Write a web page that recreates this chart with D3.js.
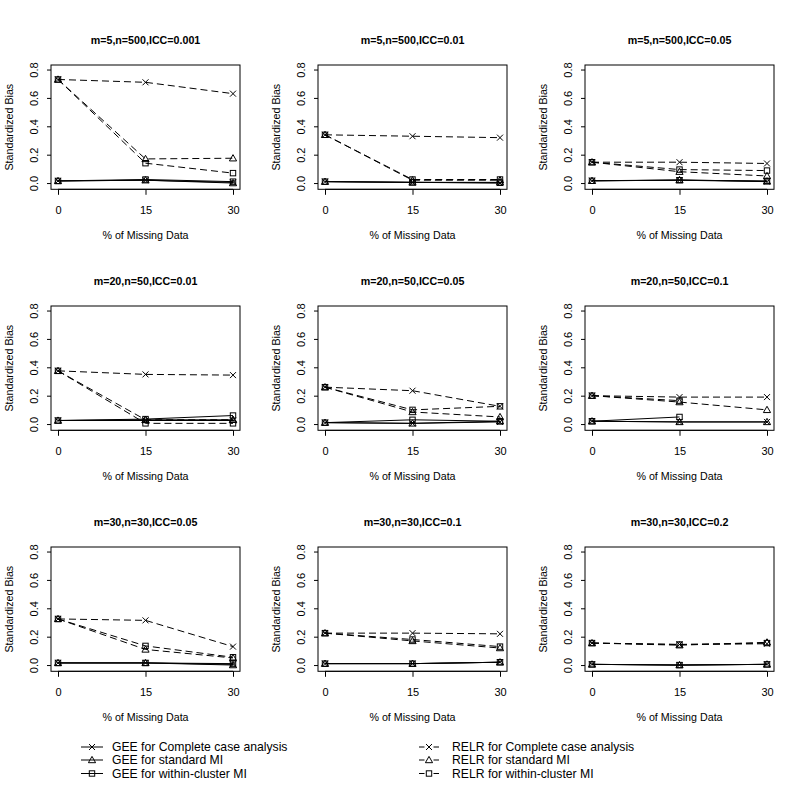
<!DOCTYPE html>
<html>
<head>
<meta charset="utf-8">
<script src="https://cdn.jsdelivr.net/npm/d3@7"></script>
<style>
  html, body { margin: 0; padding: 0; background: #ffffff; }
  svg { display: block; }
  text { font-family: "Liberation Sans", Arial, sans-serif; fill: #000; }
</style>
</head>
<body>
<script>
// ---------------- data ----------------
const missingPct = [0, 15, 30];
const xTickLabels = ["0", "15", "30"];
const yTicks = [0, 0.2, 0.4, 0.6, 0.8];
const yTickLabels = ["0.0", "0.2", "0.4", "0.6", "0.8"];
const panelTitles = [
  "m=5,n=500,ICC=0.001", "m=5,n=500,ICC=0.01", "m=5,n=500,ICC=0.05",
  "m=20,n=50,ICC=0.01", "m=20,n=50,ICC=0.05", "m=20,n=50,ICC=0.1",
  "m=30,n=30,ICC=0.05", "m=30,n=30,ICC=0.1", "m=30,n=30,ICC=0.2"
];
const seriesNames = [
  "GEE for Complete case analysis", "GEE for standard MI", "GEE for within-cluster MI",
  "RELR for Complete case analysis", "RELR for standard MI", "RELR for within-cluster MI"
];
// one row per panel, values at 0/15/30 % missing
const geeCC = [
  [0.015, 0.02, 0.005], [0.01, 0.005, 0.0], [0.016, 0.02, 0.01],
  [0.025, 0.025, 0.025], [0.01, 0.005, 0.015], [0.02, 0.015, 0.015],
  [0.015, 0.015, 0.005], [0.01, 0.01, 0.02], [0.005, 0.0, 0.005]
];
const geeStd = [
  [0.015, 0.02, 0.0], [0.01, 0.005, 0.005], [0.016, 0.022, 0.012],
  [0.025, 0.03, 0.03], [0.01, 0.005, 0.02], [0.02, 0.015, 0.015],
  [0.015, 0.015, 0.0], [0.01, 0.01, 0.02], [0.005, 0.0, 0.005]
];
const geeWithin = [
  [0.015, 0.025, 0.01], [0.01, 0.005, 0.002], [0.016, 0.02, 0.015],
  [0.025, 0.035, 0.06], [0.01, 0.03, 0.02], [0.02, 0.05, null],
  [0.015, 0.015, 0.01], [0.01, 0.01, 0.02], [0.005, 0.0, 0.005]
];
const relrCC = [
  [0.73, 0.71, 0.63], [0.34, 0.33, 0.32], [0.147, 0.147, 0.138],
  [0.375, 0.35, 0.345], [0.26, 0.235, 0.125], [0.2, 0.19, 0.19],
  [0.325, 0.315, 0.13], [0.225, 0.225, 0.22], [0.155, 0.145, 0.15]
];
const relrStd = [
  [0.73, 0.17, 0.175], [0.34, 0.02, 0.02], [0.147, 0.08, 0.05],
  [0.375, 0.03, 0.03], [0.26, 0.085, 0.05], [0.2, 0.155, 0.1],
  [0.325, 0.11, 0.05], [0.225, 0.17, 0.12], [0.155, 0.14, 0.16]
];
const relrWithin = [
  [0.73, 0.14, 0.07], [0.34, 0.025, 0.025], [0.147, 0.095, 0.088],
  [0.375, 0.005, 0.005], [0.26, 0.1, 0.125], [0.2, 0.165, null],
  [0.325, 0.135, 0.055], [0.225, 0.18, 0.13], [0.155, 0.145, 0.155]
];

const seriesData = [geeCC, geeStd, geeWithin, relrCC, relrStd, relrWithin];
const seriesShape = ["x", "tri", "sq", "x", "tri", "sq"];
const seriesDashed = [false, false, false, true, true, true];

// ---------------- layout ----------------
const W = 800, H = 800;
const colLeft = [51, 318, 585];
const rowTop = [65, 306, 547];
const boxW = 189, boxH = 124.3;
const dash = "7,4";

const svg = d3.select("body").append("svg").attr("width", W).attr("height", H);

function drawMarker(g, shape, cx, cy) {
  if (shape === "x") {
    const r = 3;
    g.append("path").attr("d", `M${cx - r},${cy - r}L${cx + r},${cy + r}M${cx - r},${cy + r}L${cx + r},${cy - r}`)
      .attr("stroke", "#000").attr("stroke-width", 1).attr("fill", "none");
  } else if (shape === "tri") {
    const r = 3.6;
    g.append("path").attr("d", `M${cx},${cy - r}L${cx + r},${cy + r * 0.75}L${cx - r},${cy + r * 0.75}Z`)
      .attr("stroke", "#000").attr("stroke-width", 1).attr("fill", "none");
  } else {
    const r = 2.7;
    g.append("rect").attr("x", cx - r).attr("y", cy - r).attr("width", 2 * r).attr("height", 2 * r)
      .attr("stroke", "#000").attr("stroke-width", 1).attr("fill", "none");
  }
}

panelTitles.forEach((title, p) => {
  const left = colLeft[p % 3], top = rowTop[Math.floor(p / 3)];
  const g = svg.append("g").attr("transform", `translate(${left},${top})`);
  const x = d3.scaleLinear().domain([-1.2, 31.2]).range([0, boxW]);
  const y = d3.scaleLinear().domain([-0.044, 0.832]).range([boxH, 0]);

  // title
  g.append("text").attr("x", boxW / 2).attr("y", -24.5).attr("dy", "0.35em")
    .attr("text-anchor", "middle").attr("font-weight", "bold").attr("font-size", "10.7px").text(title);

  // x axis
  const xAxis = g.append("g").attr("transform", `translate(0,${boxH})`)
    .call(d3.axisBottom(x).tickValues(missingPct).tickSize(5.5).tickFormat((d, i) => xTickLabels[i]));
  xAxis.select(".domain").remove();
  xAxis.selectAll("line").attr("stroke", "#000");
  xAxis.selectAll("text").attr("font-size", "11px").attr("font-family", "Liberation Sans, Arial, sans-serif")
    .attr("y", 20.7).attr("dy", "0.35em").attr("fill", "#000");
  g.append("line").attr("x1", x(0)).attr("x2", x(30)).attr("y1", boxH).attr("y2", boxH).attr("stroke", "#000");

  // y axis
  const yAxis = g.append("g")
    .call(d3.axisLeft(y).tickValues(yTicks).tickSize(4).tickFormat((d, i) => yTickLabels[i]));
  yAxis.select(".domain").remove();
  yAxis.selectAll("line").attr("stroke", "#000");
  yAxis.selectAll(".tick text").attr("font-size", "11px").attr("font-family", "Liberation Sans, Arial, sans-serif")
    .attr("fill", "#000").attr("x", null).attr("dy", null)
    .attr("text-anchor", "middle").attr("dominant-baseline", "central")
    .attr("transform", "translate(-17.5,0) rotate(-90)");

  // axis labels
  g.append("text").attr("x", boxW / 2).attr("y", boxH + 46).attr("dy", "0.35em")
    .attr("text-anchor", "middle").attr("font-size", "10.7px").text("% of Missing Data");
  g.append("text").attr("transform", `translate(-42,${boxH / 2}) rotate(-90)`)
    .attr("dy", "0.35em").attr("text-anchor", "middle").attr("font-size", "10.7px").text("Standardized Bias");

  // box
  g.append("rect").attr("x", 0).attr("y", 0).attr("width", boxW).attr("height", boxH)
    .attr("fill", "none").attr("stroke", "#000").attr("stroke-width", 1);

  // series
  seriesData.forEach((arr, s) => {
    const vals = arr[p];
    const pts = missingPct.map((m, i) => ({ m, v: vals[i] }));
    const line = d3.line().defined(d => d.v !== null).x(d => x(d.m)).y(d => y(d.v));
    g.append("path").attr("d", line(pts)).attr("fill", "none").attr("stroke", "#000")
      .attr("stroke-width", 1).attr("stroke-dasharray", seriesDashed[s] ? dash : null);
    pts.filter(d => d.v !== null).forEach(d => drawMarker(g, seriesShape[s], x(d.m), y(d.v)));
  });
});

// ---------------- legend ----------------
const legendRows = [747, 760, 773.5];
const leg = svg.append("g");
seriesNames.forEach((name, s) => {
  const col = s < 3 ? 0 : 1;
  const yy = legendRows[s % 3];
  const x0 = col === 0 ? 81 : 419, x1 = col === 0 ? 103 : 439, tx = col === 0 ? 112 : 452;
  const xm = (x0 + x1) / 2;
  if (seriesDashed[s]) {
    leg.append("line").attr("x1", x0).attr("x2", x0 + 5.5).attr("y1", yy).attr("y2", yy).attr("stroke", "#000");
    leg.append("line").attr("x1", x1 - 5.5).attr("x2", x1).attr("y1", yy).attr("y2", yy).attr("stroke", "#000");
  } else {
    leg.append("line").attr("x1", x0).attr("x2", x1).attr("y1", yy).attr("y2", yy).attr("stroke", "#000");
  }
  drawMarker(leg, seriesShape[s], xm, yy);
  leg.append("text").attr("x", tx).attr("y", yy).attr("dy", "0.35em").attr("font-size", "12.2px").text(name);
});
</script>
</body>
</html>
